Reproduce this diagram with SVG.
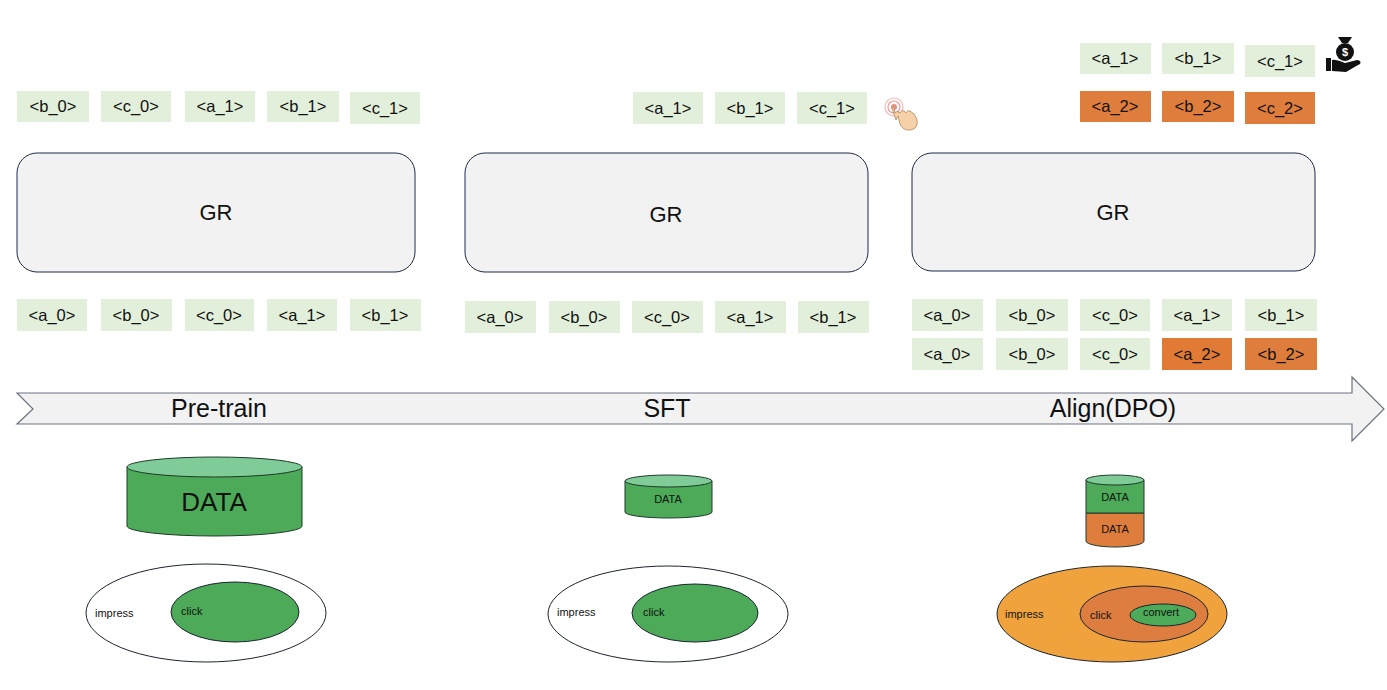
<svg xmlns="http://www.w3.org/2000/svg" width="1387" height="690" viewBox="0 0 1387 690">
<style>
text{font-family:"Liberation Sans","Noto Sans",sans-serif;fill:#111;text-anchor:middle;dominant-baseline:central}
.tk{fill:#e2efda}
.tko{fill:#df7d3c}
.tt{font-size:16.5px}
.gr{fill:#f2f2f2;stroke:#1e2a48;stroke-width:1}
.grt{font-size:22px}
.stage{font-size:25px}
.cyl{stroke:#1f3a2a;stroke-width:1}
.sm{font-size:11px}
.lb{font-size:11px;text-anchor:start}
</style>
<rect width="1387" height="690" fill="#ffffff"/>

<g id="pretrain-top">
<rect class="tk" x="17" y="91" width="72" height="31"/><text class="tt" x="53" y="106">&lt;b_0&gt;</text>
<rect class="tk" x="101" y="91" width="70" height="31"/><text class="tt" x="136" y="106">&lt;c_0&gt;</text>
<rect class="tk" x="185" y="91" width="70" height="31"/><text class="tt" x="220" y="106">&lt;a_1&gt;</text>
<rect class="tk" x="267" y="91" width="72" height="31"/><text class="tt" x="303" y="106">&lt;b_1&gt;</text>
<rect class="tk" x="350" y="92" width="70" height="32"/><text class="tt" x="385" y="108">&lt;c_1&gt;</text>
</g>

<g id="sft-top">
<rect class="tk" x="633" y="92" width="70" height="32"/><text class="tt" x="668" y="108">&lt;a_1&gt;</text>
<rect class="tk" x="715" y="92" width="70" height="32"/><text class="tt" x="750" y="108">&lt;b_1&gt;</text>
<rect class="tk" x="797" y="92" width="70" height="32"/><text class="tt" x="832" y="108">&lt;c_1&gt;</text>
</g>

<g id="hand-icon">
<circle cx="894" cy="107" r="9" fill="none" stroke="#f6b8b4" stroke-width="1.2"/>
<circle cx="894" cy="107" r="6" fill="none" stroke="#f09a95" stroke-width="1.2"/>
<circle cx="894" cy="107" r="3" fill="#ec8a84"/>
<path d="M892,108 L896,120 L898,116 L900,124 C902,130 910,132 915,128 C919,124 917,118 914,114 L910,111 C908,110 906,112 906,113 L904,111 C902,110 900,112 900,113 L898,112 C897,111 895,112 895,113 L894,108 C893,106 891,106 892,108 Z" fill="#f6d1a8" stroke="#b38455" stroke-width="0.8"/>
</g>

<g id="align-top">
<rect class="tk" x="1080" y="43" width="71" height="31"/><text class="tt" x="1115" y="58">&lt;a_1&gt;</text>
<rect class="tk" x="1162" y="43" width="72" height="31"/><text class="tt" x="1198" y="58">&lt;b_1&gt;</text>
<rect class="tk" x="1245" y="45" width="70" height="32"/><text class="tt" x="1280" y="61">&lt;c_1&gt;</text>
<rect class="tko" x="1080" y="91" width="71" height="31"/><text class="tt" x="1115" y="106">&lt;a_2&gt;</text>
<rect class="tko" x="1162" y="91" width="72" height="31"/><text class="tt" x="1198" y="106">&lt;b_2&gt;</text>
<rect class="tko" x="1245" y="92" width="70" height="32"/><text class="tt" x="1280" y="108">&lt;c_2&gt;</text>
</g>

<g id="money-icon" fill="#111">
<path d="M1338,37 L1352,37 L1348,43 L1342,43 Z"/>
<circle cx="1345" cy="52" r="9"/>
<text x="1345" y="52" style="font-size:11px;fill:#fff;font-weight:bold">$</text>
<path d="M1326,58 L1331,58 L1331,71 L1326,71 Z"/>
<path d="M1332,60 C1337,59 1341,62 1345,63 L1357,60 C1361,60 1362,64 1358,65 L1346,72 L1332,71 Z"/>
</g>

<g id="gr-pretrain">
<rect class="gr" x="17" y="153" width="398" height="119" rx="20"/>
<text class="grt" x="216" y="212">GR</text>
</g>
<g id="gr-sft">
<rect class="gr" x="465" y="153" width="403" height="119" rx="20"/>
<text class="grt" x="666" y="214">GR</text>
</g>
<g id="gr-align">
<rect class="gr" x="912" y="153" width="403" height="118" rx="20"/>
<text class="grt" x="1113" y="212">GR</text>
</g>

<g id="pretrain-bottom">
<rect class="tk" x="17" y="299" width="70" height="32"/><text class="tt" x="52" y="315">&lt;a_0&gt;</text>
<rect class="tk" x="101" y="299" width="71" height="32"/><text class="tt" x="136" y="315">&lt;b_0&gt;</text>
<rect class="tk" x="185" y="299" width="69" height="32"/><text class="tt" x="219" y="315">&lt;c_0&gt;</text>
<rect class="tk" x="267" y="299" width="70" height="32"/><text class="tt" x="302" y="315">&lt;a_1&gt;</text>
<rect class="tk" x="350" y="299" width="71" height="32"/><text class="tt" x="385" y="315">&lt;b_1&gt;</text>
</g>

<g id="sft-bottom">
<rect class="tk" x="465" y="301" width="71" height="32"/><text class="tt" x="500" y="317">&lt;a_0&gt;</text>
<rect class="tk" x="549" y="301" width="71" height="32"/><text class="tt" x="584" y="317">&lt;b_0&gt;</text>
<rect class="tk" x="632" y="301" width="71" height="32"/><text class="tt" x="667" y="317">&lt;c_0&gt;</text>
<rect class="tk" x="715" y="301" width="71" height="32"/><text class="tt" x="750" y="317">&lt;a_1&gt;</text>
<rect class="tk" x="798" y="301" width="71" height="32"/><text class="tt" x="833" y="317">&lt;b_1&gt;</text>
</g>

<g id="align-bottom">
<rect class="tk" x="912" y="299" width="71" height="32"/><text class="tt" x="947" y="315">&lt;a_0&gt;</text>
<rect class="tk" x="996" y="299" width="72" height="32"/><text class="tt" x="1032" y="315">&lt;b_0&gt;</text>
<rect class="tk" x="1080" y="299" width="70" height="32"/><text class="tt" x="1115" y="315">&lt;c_0&gt;</text>
<rect class="tk" x="1162" y="299" width="70" height="32"/><text class="tt" x="1197" y="315">&lt;a_1&gt;</text>
<rect class="tk" x="1245" y="299" width="72" height="32"/><text class="tt" x="1281" y="315">&lt;b_1&gt;</text>
<rect class="tk" x="912" y="338" width="71" height="32"/><text class="tt" x="947" y="354">&lt;a_0&gt;</text>
<rect class="tk" x="996" y="338" width="72" height="32"/><text class="tt" x="1032" y="354">&lt;b_0&gt;</text>
<rect class="tk" x="1080" y="338" width="70" height="32"/><text class="tt" x="1115" y="354">&lt;c_0&gt;</text>
<rect class="tko" x="1162" y="338" width="70" height="32" style="fill:#e07a35"/><text class="tt" x="1197" y="354">&lt;a_2&gt;</text>
<rect class="tko" x="1245" y="338" width="72" height="32"/><text class="tt" x="1281" y="354">&lt;b_2&gt;</text>
</g>

<g id="timeline">
<path d="M17,393 L1352,393 L1352,377 L1384,409 L1352,441 L1352,424 L17,424 L33,409 Z" fill="#f2f2f2" stroke="#6b7384" stroke-width="1.2"/>
<text class="stage" x="219" y="408">Pre-train</text>
<text class="stage" x="667" y="408">SFT</text>
<text class="stage" x="1113" y="408">Align(DPO)</text>
</g>

<g id="data-pretrain">
<path class="cyl" d="M127,467 L127,526 A87.5,10 0 0 0 302,526 L302,467 Z" fill="#4caa58"/>
<ellipse class="cyl" cx="214.5" cy="467" rx="87.5" ry="10" fill="#80cc98"/>
<text x="214" y="502" style="font-size:26px">DATA</text>
</g>

<g id="data-sft">
<path class="cyl" d="M625,481 L625,512 A43.5,6 0 0 0 712,512 L712,481 Z" fill="#4caa58"/>
<ellipse class="cyl" cx="668.5" cy="481" rx="43.5" ry="6" fill="#80cc98"/>
<text class="sm" x="668" y="499">DATA</text>
</g>

<g id="data-align">
<path class="cyl" d="M1086,513 L1086,541 A29,6 0 0 0 1144,541 L1144,513 Z" fill="#df7d3c"/>
<path class="cyl" d="M1086,480 L1086,513 L1144,513 L1144,480 Z" fill="#4caa58"/>
<ellipse class="cyl" cx="1115" cy="480" rx="29" ry="5" fill="#80cc98"/>
<text class="sm" x="1115" y="497">DATA</text>
<text class="sm" x="1115" y="529">DATA</text>
</g>

<g id="funnel-pretrain">
<ellipse cx="206" cy="613" rx="120" ry="49" fill="#ffffff" stroke="#1c2430" stroke-width="1"/>
<ellipse cx="235" cy="612" rx="64" ry="30" fill="#4caa58" stroke="#1c2430" stroke-width="1"/>
<text class="lb" x="95" y="613">impress</text>
<text class="lb" x="181" y="611">click</text>
</g>

<g id="funnel-sft">
<ellipse cx="668" cy="614" rx="120" ry="48" fill="#ffffff" stroke="#1c2430" stroke-width="1"/>
<ellipse cx="695" cy="613" rx="63" ry="29" fill="#4caa58" stroke="#1c2430" stroke-width="1"/>
<text class="lb" x="557" y="612">impress</text>
<text class="lb" x="643" y="612">click</text>
</g>

<g id="funnel-align">
<ellipse cx="1112" cy="614" rx="115" ry="48" fill="#f0a33c" stroke="#1c2430" stroke-width="1"/>
<ellipse cx="1144" cy="614" rx="64" ry="28" fill="#dd7d40" stroke="#1c2430" stroke-width="1"/>
<ellipse cx="1163" cy="615" rx="33" ry="11" fill="#4caa58" stroke="#1c2430" stroke-width="1"/>
<text class="lb" x="1005" y="614">impress</text>
<text class="lb" x="1090" y="615">click</text>
<text class="lb" x="1143" y="612">convert</text>
</g>
</svg>
